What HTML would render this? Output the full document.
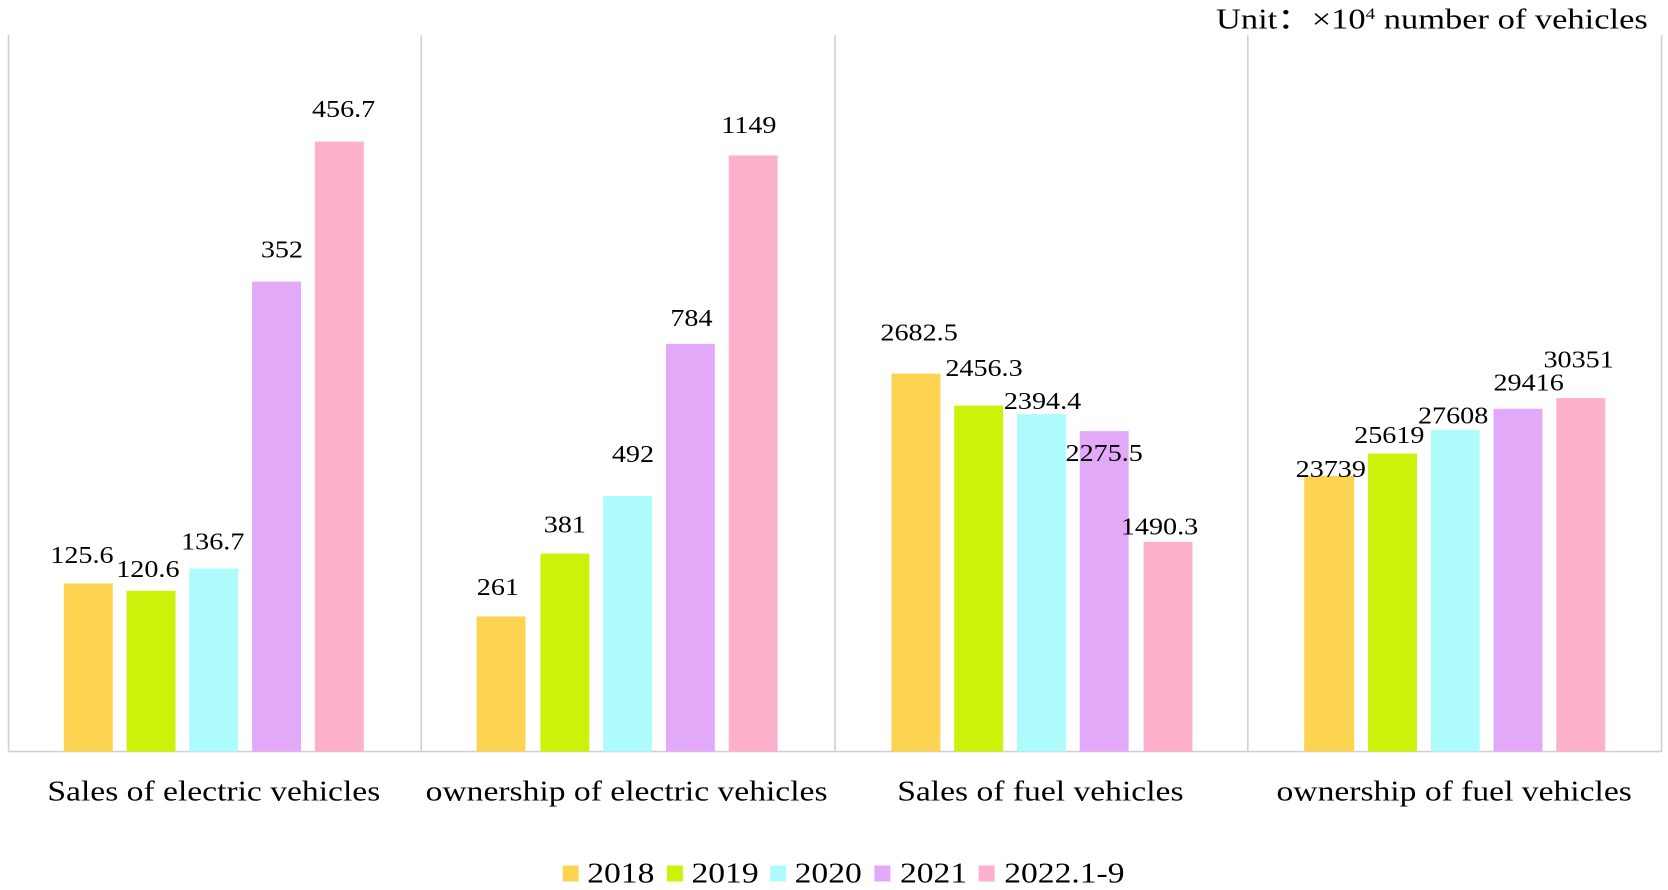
<!DOCTYPE html>
<html><head><meta charset="utf-8"><style>
html,body{margin:0;padding:0;background:#fff;width:1668px;height:890px;overflow:hidden}
svg{display:block}
text{font-family:"Liberation Serif","Times New Roman",serif}
</style></head><body>
<svg width="1668" height="890" viewBox="0 0 1568 836" preserveAspectRatio="none">
<g stroke="#d0d0d0" stroke-width="1.5">
<line x1="8" y1="33" x2="8" y2="706"/>
<line x1="396" y1="33" x2="396" y2="706"/>
<line x1="785" y1="33" x2="785" y2="706"/>
<line x1="1173" y1="33" x2="1173" y2="706"/>
<line x1="1562" y1="33" x2="1562" y2="706"/>
<line x1="8" y1="706" x2="1562" y2="706"/>
</g>
<rect x="60" y="548" width="46" height="158" fill="#FDD452"/>
<rect x="119" y="555" width="46" height="151" fill="#CCF20A"/>
<rect x="178" y="534" width="46" height="172" fill="#AEFBFB"/>
<rect x="237" y="264.5" width="46" height="441.5" fill="#E2A9F9"/>
<rect x="296" y="133" width="46" height="573" fill="#FDB0CB"/>
<rect x="448" y="579" width="46" height="127" fill="#FDD452"/>
<rect x="508" y="520" width="46" height="186" fill="#CCF20A"/>
<rect x="567" y="466" width="46" height="240" fill="#AEFBFB"/>
<rect x="626" y="323" width="46" height="383" fill="#E2A9F9"/>
<rect x="685" y="146" width="46" height="560" fill="#FDB0CB"/>
<rect x="838" y="351" width="46" height="355" fill="#FDD452"/>
<rect x="897" y="381" width="46" height="325" fill="#CCF20A"/>
<rect x="956" y="389" width="46" height="317" fill="#AEFBFB"/>
<rect x="1015" y="405" width="46" height="301" fill="#E2A9F9"/>
<rect x="1075" y="509" width="46" height="197" fill="#FDB0CB"/>
<rect x="1226" y="447" width="47" height="259" fill="#FDD452"/>
<rect x="1286" y="426" width="46" height="280" fill="#CCF20A"/>
<rect x="1345" y="404" width="46" height="302" fill="#AEFBFB"/>
<rect x="1404" y="384" width="46" height="322" fill="#E2A9F9"/>
<rect x="1463" y="374" width="46" height="332" fill="#FDB0CB"/>
<g font-size="23" text-anchor="middle">
<text transform="translate(77,529) scale(1.15,1)">125.6</text>
<text transform="translate(139,542) scale(1.15,1)">120.6</text>
<text transform="translate(200,516) scale(1.15,1)">136.7</text>
<text transform="translate(265,242) scale(1.15,1)">352</text>
<text transform="translate(323,110) scale(1.15,1)">456.7</text>
<text transform="translate(468,559) scale(1.15,1)">261</text>
<text transform="translate(531,500) scale(1.15,1)">381</text>
<text transform="translate(595,434) scale(1.15,1)">492</text>
<text transform="translate(650,306) scale(1.15,1)">784</text>
<text transform="translate(704,125) scale(1.15,1)">1149</text>
<text transform="translate(864,320) scale(1.15,1)">2682.5</text>
<text transform="translate(925,353) scale(1.15,1)">2456.3</text>
<text transform="translate(980,384) scale(1.15,1)">2394.4</text>
<text transform="translate(1038,433) scale(1.15,1)">2275.5</text>
<text transform="translate(1090,502) scale(1.15,1)">1490.3</text>
<text transform="translate(1251,448) scale(1.15,1)">23739</text>
<text transform="translate(1306,416) scale(1.15,1)">25619</text>
<text transform="translate(1366,398) scale(1.15,1)">27608</text>
<text transform="translate(1437,367) scale(1.15,1)">29416</text>
<text transform="translate(1484,345) scale(1.15,1)">30351</text>
</g>
<g font-size="27" text-anchor="middle">
<text transform="translate(201,752) scale(1.17,1)">Sales of electric vehicles</text>
<text transform="translate(589,752) scale(1.17,1)">ownership of electric vehicles</text>
<text transform="translate(978,752) scale(1.17,1)">Sales of fuel vehicles</text>
<text transform="translate(1367,752) scale(1.17,1)">ownership of fuel vehicles</text>
</g>
<text transform="translate(1549,27) scale(1.2,1)" text-anchor="end" font-size="27">Unit：×10<tspan font-size="15" dy="-9">4</tspan><tspan dy="9"> number of vehicles</tspan></text>
<g font-size="27">
<rect x="529" y="813" width="15" height="15" fill="#FDD452"/><text transform="translate(552,829) scale(1.17,1)">2018</text>
<rect x="627" y="813" width="15" height="15" fill="#CCF20A"/><text transform="translate(650,829) scale(1.17,1)">2019</text>
<rect x="724" y="813" width="15" height="15" fill="#AEFBFB"/><text transform="translate(747,829) scale(1.17,1)">2020</text>
<rect x="822" y="813" width="15" height="15" fill="#E2A9F9"/><text transform="translate(846,829) scale(1.17,1)">2021</text>
<rect x="920" y="813" width="15" height="15" fill="#FDB0CB"/><text transform="translate(944,829) scale(1.17,1)">2022.1-9</text>
</g>
</svg>
</body></html>
